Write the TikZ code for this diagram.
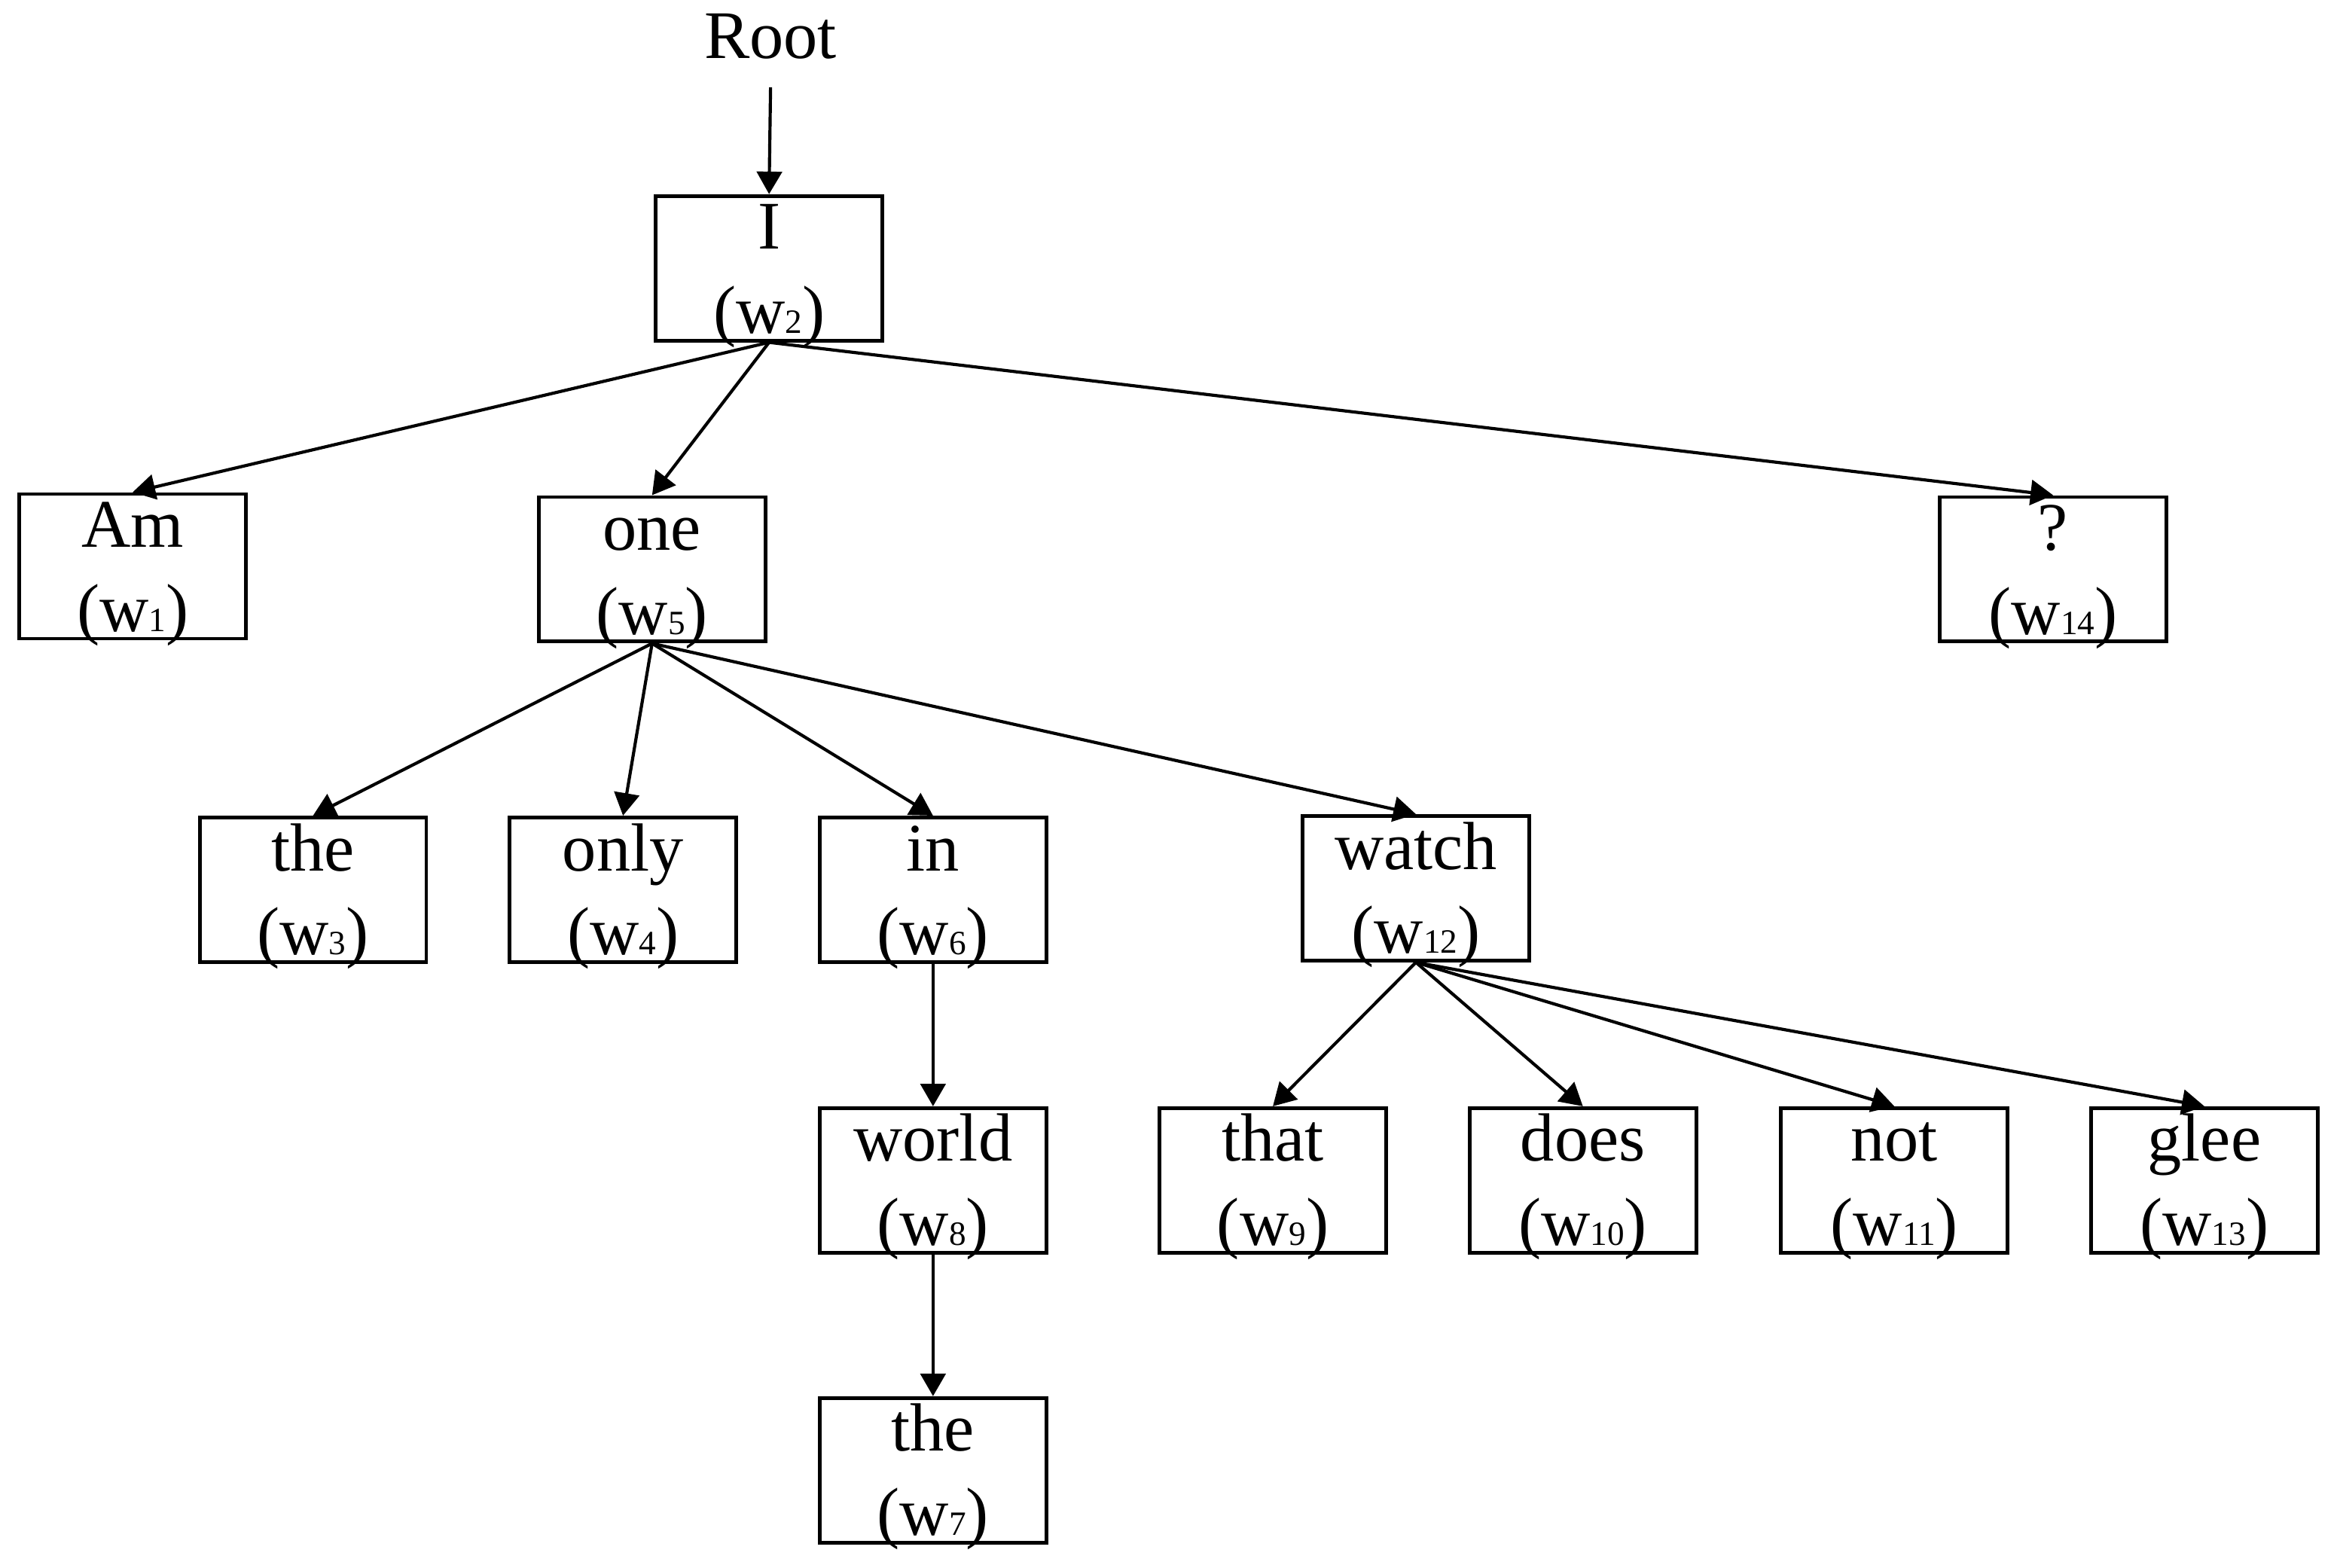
\documentclass[tikz,border=0pt]{standalone}
\usepackage{fontspec}
\setmainfont{Liberation Serif}
\usetikzlibrary{arrows.meta}

\begin{document}
\begin{tikzpicture}[
    font=\fontsize{13}{15}\selectfont,
    wbox/.style={draw, line width=0.7pt, minimum width=1.52cm, minimum height=0.97cm, inner sep=0pt},
    arr/.style={line width=0.6pt, -{Triangle[length=4.3pt,width=4.8pt]}}
]
    % --- Page frame ---
    \useasboundingbox (0,0) rectangle (15.68,-10.52);

    % --- Root label ---
    \node[anchor=base, inner sep=0pt] (root) at (5.17,-0.394) {Root};

    % --- Word boxes (word on top, index below) ---
    \foreach \n/\x/\y/\word/\idx in {w2/5.16/-1.80/I/2, w1/0.89/-3.80/Am/1, w5/4.375/-3.82/one/5,
        w14/13.775/-3.82/?/14, w3/2.10/-5.97/the/3, w4/4.18/-5.97/only/4, w6/6.26/-5.97/in/6,
        w12/9.50/-5.96/watch/12, w8/6.26/-7.92/world/8, w9/8.54/-7.92/that/9,
        w10/10.62/-7.92/does/10, w11/12.71/-7.92/not/11, w13/14.79/-7.92/glee/13,
        w7/6.26/-9.865/the/7} {
        \node[wbox] (\n) at (\x,\y) {};
        \node[anchor=base] (\n-word) at ([yshift=-3.69mm]\n.north) {\word};
        \node[anchor=base] (\n-idx) at ([yshift=0.61mm]\n.south) {(w{\fontsize{6.5}{7}\selectfont\idx})};
    }

    % --- Dependency arrows ---
    \draw[arr] ([yshift=-1.8mm]root.south) -- (w2.north);
    \foreach \a/\b in {w2/w1, w2/w5, w2/w14, w5/w3, w5/w4, w5/w6, w5/w12,
        w6/w8, w8/w7, w12/w9, w12/w10, w12/w11, w12/w13} {
        \draw[arr] (\a.south) -- (\b.north);
    }
\end{tikzpicture}
\end{document}
